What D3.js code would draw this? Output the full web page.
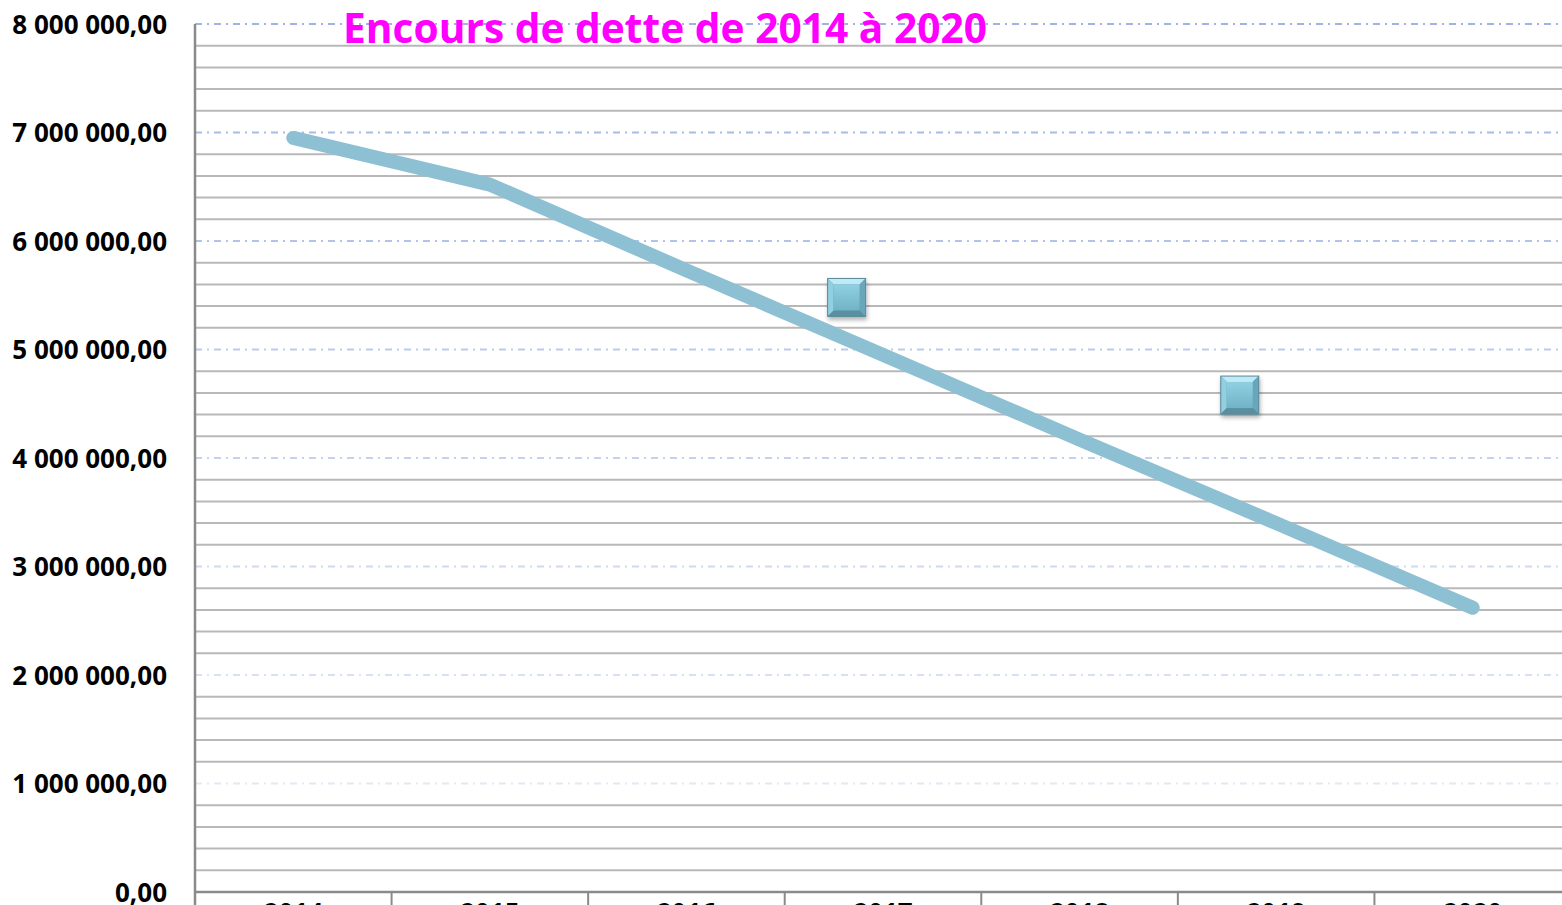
<!DOCTYPE html>
<html>
<head>
<meta charset="utf-8">
<script src="https://cdn.jsdelivr.net/npm/d3@7"></script>
<style>
  html, body { margin: 0; padding: 0; background: #fff; overflow: hidden; }
  .chart text { font-family: 'Open Sans', sans-serif; font-weight: bold; }
</style>
</head>
<body>
<div class="container"></div>
<script>
const years = ['2014', '2015', '2016', '2017', '2018', '2019', '2020'];
const encours = [6950000, 6520000, 5730000, 4950000, 4170000, 3400000, 2620000];
const marqueurs = [null, null, null, 5480000, null, 4580000, null];
const yTicks = [0, 1000000, 2000000, 3000000, 4000000, 5000000, 6000000, 7000000, 8000000];
const title = 'Encours de dette de 2014 à 2020';

const width = 1562;
const height = 905;
const margin = { top: 24, left: 195, bottom: 13 };
const plotRight = 1571;

const svg = d3
  .select('.container')
  .append('svg')
  .attr('class', 'chart')
  .attr('width', width)
  .attr('height', height);

const x = d3.scaleBand().domain(years).range([margin.left, plotRight]);
const y = d3.scaleLinear().domain([0, 8000000]).range([height - margin.bottom, margin.top]);

const fmt = (v) => {
  const s = d3.format(',.2f')(v);
  return s.replace(/,/g, ' ').replace('.', ',');
};

// minor gridlines every 200 000
const minor = d3.range(200000, 8000000, 200000).filter((v) => v % 1000000 !== 0);
svg
  .append('g')
  .attr('class', 'minor-grid')
  .selectAll('line')
  .data(minor)
  .join('line')
  .attr('x1', margin.left)
  .attr('x2', plotRight)
  .attr('y1', (d) => y(d))
  .attr('y2', (d) => y(d))
  .attr('stroke', '#b8b8b8')
  .attr('stroke-width', 2);

// major gridlines, dash-dot, fading downwards
const majorColor = d3.scaleLinear().domain([1000000, 8000000]).range(['#e2e9f5', '#9fb4e4']);
svg
  .append('g')
  .attr('class', 'major-grid')
  .selectAll('line')
  .data(yTicks.filter((d) => d > 0))
  .join('line')
  .attr('x1', margin.left)
  .attr('x2', plotRight)
  .attr('y1', (d) => y(d))
  .attr('y2', (d) => y(d))
  .attr('stroke', (d) => majorColor(d))
  .attr('stroke-width', 2)
  .attr('stroke-dasharray', '7,5,2,5');

// y axis
const yAxis = d3
  .axisLeft(y)
  .tickValues(yTicks)
  .tickSize(0)
  .tickPadding(28)
  .tickFormat(fmt);
const gy = svg.append('g').attr('transform', `translate(${margin.left},0)`).call(yAxis);
gy.select('.domain').remove();
gy.selectAll('text').attr('font-size', 26).attr('fill', '#000').attr('dy', '0.36em');
svg
  .append('line')
  .attr('x1', margin.left)
  .attr('x2', margin.left)
  .attr('y1', margin.top)
  .attr('y2', height + 20)
  .attr('stroke', '#8a8a8a')
  .attr('stroke-width', 2.5);

// x axis
svg
  .append('line')
  .attr('x1', margin.left)
  .attr('x2', plotRight)
  .attr('y1', y(0))
  .attr('y2', y(0))
  .attr('stroke', '#8a8a8a')
  .attr('stroke-width', 2.5);
svg
  .append('g')
  .selectAll('line')
  .data(years.slice(1))
  .join('line')
  .attr('x1', (d) => x(d))
  .attr('x2', (d) => x(d))
  .attr('y1', y(0))
  .attr('y2', height + 20)
  .attr('stroke', '#8a8a8a')
  .attr('stroke-width', 2);
svg
  .append('g')
  .selectAll('text')
  .data(years)
  .join('text')
  .attr('x', (d) => x(d) + x.bandwidth() / 2)
  .attr('y', y(0) + 30)
  .attr('text-anchor', 'middle')
  .attr('font-size', 26)
  .text((d) => d);

// line series
const line = d3
  .line()
  .x((d, i) => x(years[i]) + x.bandwidth() / 2)
  .y((d) => y(d));
svg
  .append('path')
  .datum(encours)
  .attr('fill', 'none')
  .attr('stroke', '#8dc0d3')
  .attr('stroke-width', 14)
  .attr('stroke-linecap', 'round')
  .attr('stroke-linejoin', 'round')
  .attr('d', line);

// square markers (bevelled)
const defs = svg.append('defs');
const grad = defs.append('linearGradient').attr('id', 'face').attr('x1', 0).attr('y1', 0).attr('x2', 0).attr('y2', 1);
grad.append('stop').attr('offset', '0%').attr('stop-color', '#8fd0e2');
grad.append('stop').attr('offset', '100%').attr('stop-color', '#72b3c8');
const filter = defs.append('filter').attr('id', 'shadow').attr('x', '-30%').attr('y', '-30%').attr('width', '160%').attr('height', '160%');
filter.append('feDropShadow').attr('dx', 1).attr('dy', 3).attr('stdDeviation', 2).attr('flood-color', '#000').attr('flood-opacity', 0.3);

const s = 38;
const b = 6;
const markerOffset = 0.315;
const pts = marqueurs
  .map((v, i) => ({ v, year: years[i] }))
  .filter((d) => d.v !== null);
const mk = svg
  .append('g')
  .attr('class', 'markers')
  .selectAll('g')
  .data(pts)
  .join('g')
  .attr('transform', (d) => `translate(${x(d.year) + x.bandwidth() * markerOffset - s / 2},${y(d.v) - s / 2})`)
  .attr('filter', 'url(#shadow)');
mk.append('rect').attr('width', s).attr('height', s).attr('fill', '#5d93a6');
mk.append('polygon').attr('points', `0,0 ${s},0 ${s - b},${b} ${b},${b}`).attr('fill', '#bfe9f4');
mk.append('polygon').attr('points', `0,0 ${b},${b} ${b},${s - b} 0,${s}`).attr('fill', '#92cfe0');
mk.append('polygon').attr('points', `${s},0 ${s},${s} ${s - b},${s - b} ${s - b},${b}`).attr('fill', '#6ba6ba');
mk.append('polygon').attr('points', `0,${s} ${b},${s - b} ${s - b},${s - b} ${s},${s}`).attr('fill', '#5a8fa2');
mk.append('rect').attr('x', b).attr('y', b).attr('width', s - 2 * b).attr('height', s - 2 * b).attr('fill', 'url(#face)');
mk.append('rect').attr('width', s).attr('height', s).attr('fill', 'none').attr('stroke', '#5b8a9c').attr('stroke-width', 1);

// title
svg
  .append('text')
  .attr('x', 343)
  .attr('y', 43)
  .attr('fill', '#ff00ff')
  .attr('font-size', 41)
  .attr('textLength', 644)
  .attr('lengthAdjust', 'spacingAndGlyphs')
  .text(title);
</script>
</body>
</html>
